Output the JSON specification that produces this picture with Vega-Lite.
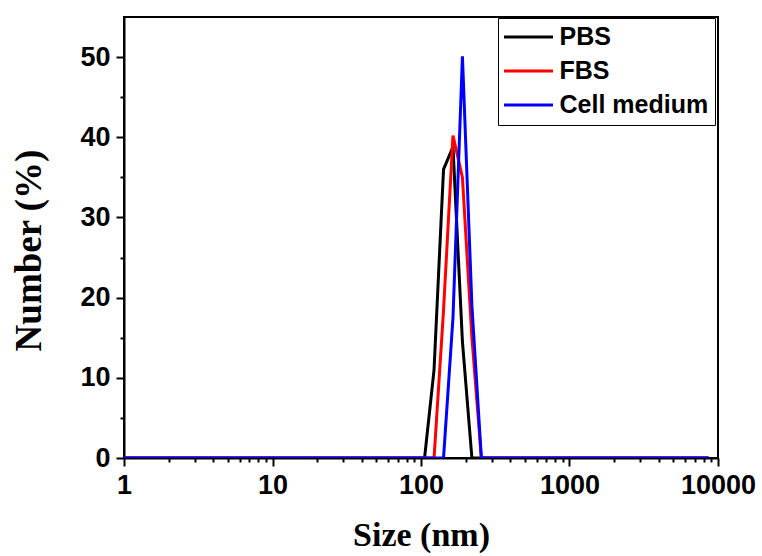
{
  "$schema": "https://vega.github.io/schema/vega-lite/v6.json",
  "width": 594,
  "height": 441,
  "autosize": {"type": "none"},
  "padding": {"left": 124, "top": 17, "right": 44, "bottom": 98},
  "background": "white",
  "config": {
    "view": {"stroke": "black", "strokeWidth": 2},
    "axis": {
      "domainColor": "black", "domainWidth": 2, "tickColor": "black", "tickWidth": 2,
      "grid": false, "labelFont": "Liberation Sans", "labelFontWeight": "bold", "labelFontSize": 27,
      "labelColor": "black", "titleFont": "Liberation Serif", "titleFontWeight": "bold",
      "titleFontSize": 34, "titleColor": "black"
    }
  },
  "data": {"values": [
    {"size": 1, "pct": 0, "medium": "PBS"},
    {"size": 105.7, "pct": 0, "medium": "PBS"},
    {"size": 122.4, "pct": 11, "medium": "PBS"},
    {"size": 141.8, "pct": 36, "medium": "PBS"},
    {"size": 164.2, "pct": 38.8, "medium": "PBS"},
    {"size": 190.1, "pct": 14.5, "medium": "PBS"},
    {"size": 220.2, "pct": 0, "medium": "PBS"},
    {"size": 8635, "pct": 0, "medium": "PBS"},
    {"size": 1, "pct": 0, "medium": "FBS"},
    {"size": 122.4, "pct": 0, "medium": "FBS"},
    {"size": 141.8, "pct": 18.4, "medium": "FBS"},
    {"size": 164.2, "pct": 40.2, "medium": "FBS"},
    {"size": 190.1, "pct": 35, "medium": "FBS"},
    {"size": 220.2, "pct": 15, "medium": "FBS"},
    {"size": 255.0, "pct": 0, "medium": "FBS"},
    {"size": 8635, "pct": 0, "medium": "FBS"},
    {"size": 1, "pct": 0, "medium": "Cell medium"},
    {"size": 141.8, "pct": 0, "medium": "Cell medium"},
    {"size": 164.2, "pct": 17.5, "medium": "Cell medium"},
    {"size": 190.1, "pct": 50.1, "medium": "Cell medium"},
    {"size": 220.2, "pct": 19, "medium": "Cell medium"},
    {"size": 255.0, "pct": 0, "medium": "Cell medium"},
    {"size": 8635, "pct": 0, "medium": "Cell medium"}
  ]},
  "layer": [
    {
      "mark": {"type": "line", "opacity": 0},
      "encoding": {
        "x": {
          "field": "size", "type": "quantitative",
          "scale": {"type": "log", "domain": [1, 10000], "nice": false},
          "axis": {
            "orient": "bottom", "title": null, "labels": false, "domain": false, "tickSize": 4,
            "values": [2,3,4,5,6,7,8,9,20,30,40,50,60,70,80,90,200,300,400,500,600,700,800,900,2000,3000,4000,5000,6000,7000,8000,9000]
          }
        },
        "y": {
          "field": "pct", "type": "quantitative",
          "scale": {"domain": [0, 55], "nice": false},
          "axis": {
            "orient": "left", "title": null, "labels": false, "domain": false, "tickSize": 4,
            "values": [5,15,25,35,45]
          }
        }
      }
    },
    {
      "mark": {"type": "line", "strokeWidth": 3, "clip": true},
      "encoding": {
        "x": {
          "field": "size", "type": "quantitative",
          "axis": {
            "orient": "bottom", "title": "Size (nm)", "tickSize": 8,
            "values": [1, 10, 100, 1000, 10000],
            "format": "d",
            "labelPadding": 6, "labelFlush": false, "labelOverlap": false, "titlePadding": 20
          }
        },
        "y": {
          "field": "pct", "type": "quantitative",
          "axis": {
            "orient": "left", "title": "Number (%)", "tickSize": 8, "titleFontSize": 37,
            "values": [0, 10, 20, 30, 40, 50], "titleY": 233,
            "labelPadding": 6, "labelOverlap": false, "titlePadding": 31
          }
        },
        "color": {
          "field": "medium", "type": "nominal",
          "scale": {"domain": ["PBS", "FBS", "Cell medium"], "range": ["#000000", "#ff0000", "#0000ff"]},
          "legend": {
            "title": null, "orient": "none", "legendX": 374, "legendY": 1,
            "strokeColor": "black", "padding": 6.5, "fillColor": "white",
            "symbolType": "M-3.5,0H3.5", "symbolSize": 196, "symbolStrokeWidth": 3,
            "symbolFillColor": "transparent", "symbolOffset": 11.5,
            "labelFont": "Liberation Sans", "labelFontWeight": "bold", "labelFontSize": 25,
            "labelColor": "black", "labelOffset": 18.5, "rowPadding": 8
          }
        }
      }
    }
  ],
  "resolve": {"axis": {"x": "independent", "y": "independent"}}
}
